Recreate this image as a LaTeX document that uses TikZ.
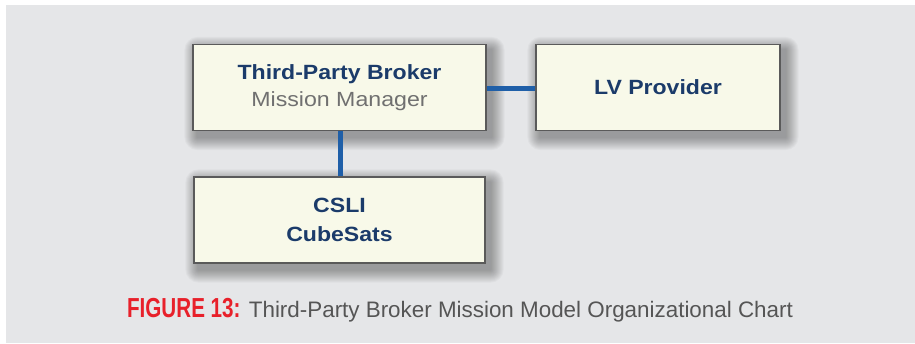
\documentclass[tikz,border=0pt]{standalone}
\usepackage{fontspec}
\setmainfont{Liberation Sans}
\newfontfamily\boxbold[FakeStretch=1.12]{Liberation Sans Bold}
\newfontfamily\boxreg[FakeStretch=1.13]{Liberation Sans}
\newfontfamily\capfont{Liberation Sans}
\newfontfamily\capred[FakeStretch=0.75]{Liberation Sans Bold}
\definecolor{bgray}{HTML}{E5E6E8}
\definecolor{boxfill}{HTML}{F8F9E9}
\definecolor{boxline}{HTML}{5A5A5A}
\definecolor{navy}{HTML}{1B3B6A}
\definecolor{midgray}{HTML}{707070}
\definecolor{linkblue}{HTML}{1F5FA8}
\definecolor{capred}{HTML}{E8202A}
\definecolor{capgray}{HTML}{555555}
\begin{document}
\begin{tikzpicture}[x=1pt,y=-1pt,
  orgbox/.style={draw=boxline, line width=1.2pt, fill=boxfill, rectangle,
    inner sep=0pt, align=center, text=navy,
    font=\boxbold\fontsize{20.6}{29}\selectfont},
  softshadow/.style={fill=black, opacity=0.026},
  link/.style={draw=linkblue, line width=5pt}]
\useasboundingbox (0,0) rectangle (915,343);
\fill[white] (0,0) rectangle (915,343);
\fill[bgray] (6,5) rectangle (915,343);
% invisible placement nodes first for shadows
\path node[orgbox, draw=none, fill=none, text opacity=0, minimum width=293pt, minimum height=86pt] (broker) at (339.5,87.5) {}
      node[orgbox, draw=none, fill=none, text opacity=0, minimum width=244pt, minimum height=86pt] (lv) at (658,87.5) {}
      node[orgbox, draw=none, fill=none, text opacity=0, minimum width=291pt, minimum height=86pt] (csli) at (339.5,220) {};
\foreach \n in {broker,lv,csli}{
  \foreach \e in {1,...,13}{
    \fill[softshadow, rounded corners=\e pt] ([shift={(5-\e,6-\e)}]\n.north west) rectangle ([shift={(5+\e,6+\e)}]\n.south east);
  }
}
\node[orgbox, minimum width=293pt, minimum height=86pt] (broker) at (339.5,87.5)
  {\raisebox{-2pt}{Third-Party Broker}\\{\boxreg\color{midgray}\fontsize{20.5}{29}\selectfont Mission Manager}};
\node[orgbox, minimum width=244pt, minimum height=86pt] (lv) at (658,87.5) {LV Provider};
\node[orgbox, minimum width=291pt, minimum height=86pt] (csli) at (339.5,220) {CSLI\\CubeSats};
\draw[link] ([xshift=0.5pt]broker.south) -- ([xshift=0.5pt]csli.north);
\draw[link] ([yshift=-0.5pt]broker.east) -- ([yshift=-0.5pt]lv.west);
\node[anchor=base, font=\capfont\fontsize{22.4}{26}\selectfont, text=capgray, inner sep=0pt] (cap) at (460,317)
  {{\capred\fontsize{27.5}{30}\selectfont\color{capred}FIGURE 13:} Third-Party Broker Mission Model Organizational Chart};
\end{tikzpicture}
\end{document}
